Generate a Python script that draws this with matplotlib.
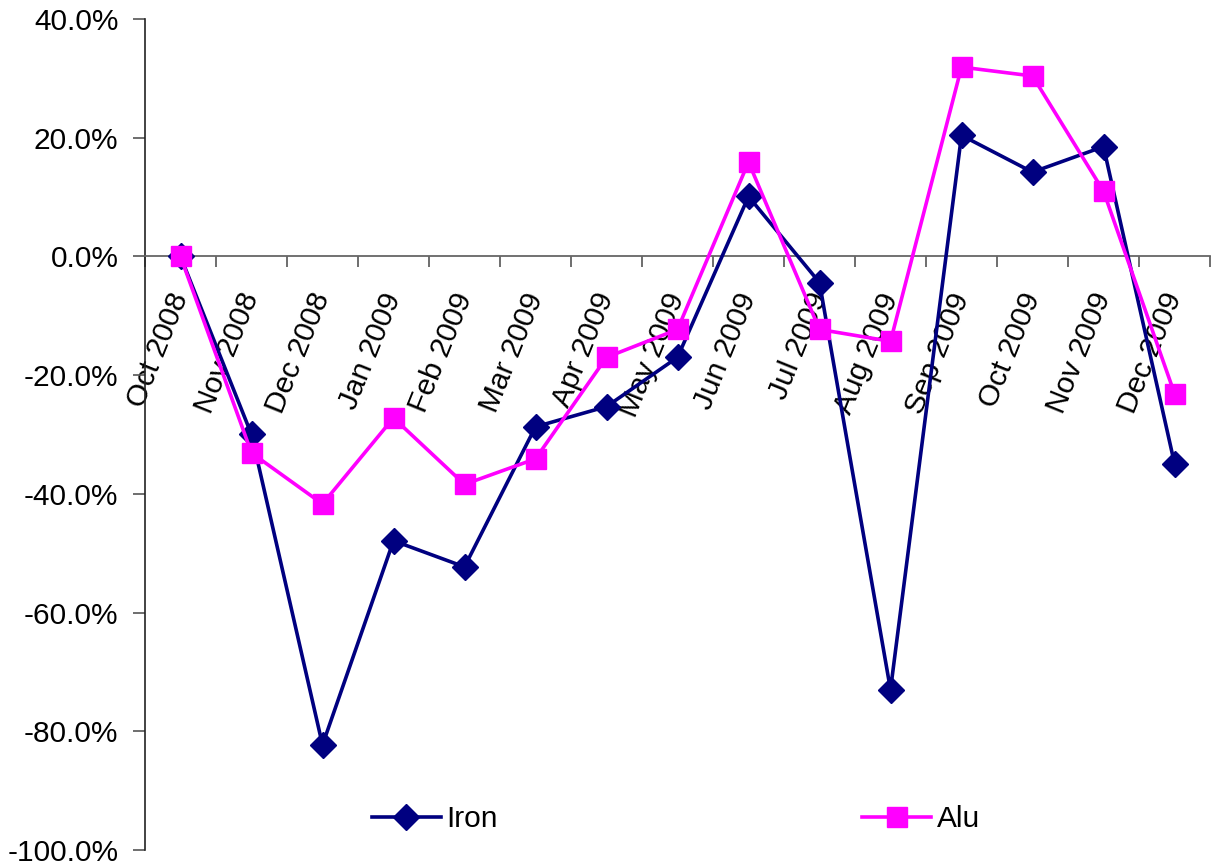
import numpy as np
import matplotlib.pyplot as plt
from matplotlib.ticker import FuncFormatter, FixedLocator

# month labels and monthly change (%) for each metal
months = ["Oct 2008", "Nov 2008", "Dec 2008", "Jan 2009", "Feb 2009", "Mar 2009",
          "Apr 2009", "May 2009", "Jun 2009", "Jul 2009", "Aug 2009", "Sep 2009",
          "Oct 2009", "Nov 2009", "Dec 2009"]
iron = [0.0, -30.0, -82.3, -47.9, -52.3, -28.7, -25.3, -17.0, 10.1, -4.4,
        -73.0, 20.4, 14.2, 18.5, -34.9]
alu = [0.0, -33.1, -41.7, -27.2, -38.4, -34.1, -17.0, -12.3, 15.9, -12.3,
       -14.3, 31.9, 30.4, 11.0, -23.1]

plt.rcParams['font.family'] = ['Liberation Sans', 'DejaVu Sans']

W, H = 1214, 867
fig = plt.figure(figsize=(W / 100, H / 100), dpi=100)
ax = fig.add_axes([145 / W, 17 / H, (1210 - 145) / W, (850 - 19) / H])

x = np.arange(len(months))
ax.plot(x, iron, color='#000080', lw=2.6, marker='D', ms=13, label='Iron', zorder=3)
ax.plot(x, alu, color='#FF00FF', lw=2.6, marker='s', ms=15, label='Alu', zorder=4)

ax.set_xlim(-0.5, len(months) - 0.5)
ax.set_ylim(-100, 40)
ax.set_yticks(np.arange(-100, 41, 20))
ax.yaxis.set_major_formatter(FuncFormatter(lambda v, p: f"{v:.1f}%"))
ax.tick_params(axis='y', labelsize=21.5, length=9, width=1.2, color='#555555', pad=10)

# x axis sits at zero, tick marks between categories
ax.spines['bottom'].set_position(('data', 0))
ax.spines['bottom'].set_color('#666666')
ax.spines['bottom'].set_linewidth(1.3)
ax.spines['left'].set_color('#222222')
ax.spines['left'].set_linewidth(1.2)
ax.spines['top'].set_visible(False)
ax.spines['right'].set_visible(False)

ax.set_xticks(x)
ax.set_xticklabels(months, rotation=68, ha='right', va='center', rotation_mode='anchor')
ax.xaxis.set_minor_locator(FixedLocator(np.arange(-0.5, len(months), 1.0)))
ax.tick_params(axis='x', which='major', length=0, labelsize=21.5, pad=27)
ax.tick_params(axis='x', which='minor', length=8, width=1.2, color='#555555')

ax.legend(loc='center', bbox_to_anchor=(676 / W, 1 - 819 / H), bbox_transform=fig.transFigure,
          ncol=2, frameon=False, fontsize=21.5, columnspacing=12.2,
          handlelength=2.3, handletextpad=0.2)

fig.savefig("out.png", dpi=100)
